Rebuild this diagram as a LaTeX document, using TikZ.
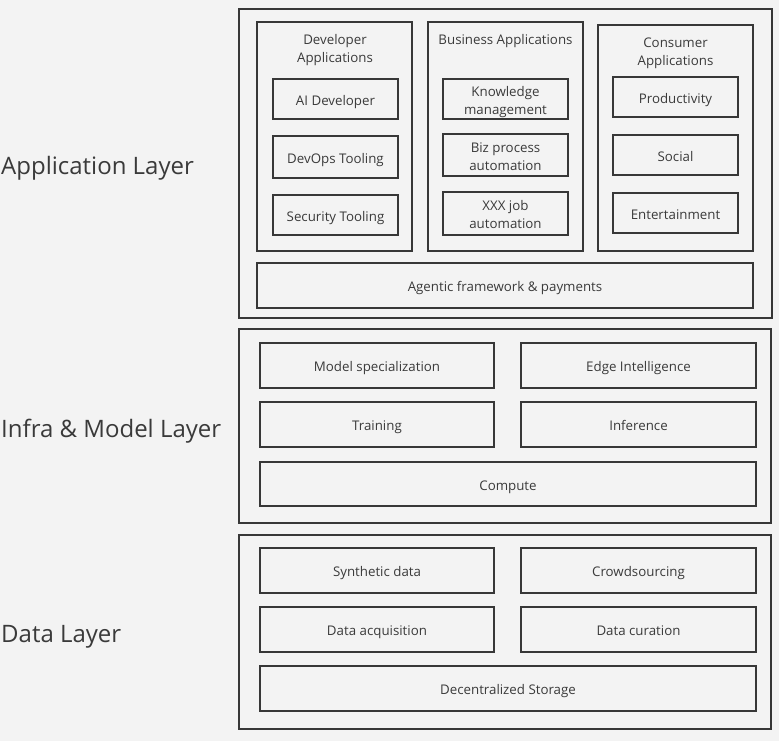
\documentclass[tikz,border=0pt]{standalone}
\usepackage{fontspec}
\setmainfont{Open Sans}
\definecolor{bgc}{RGB}{243,243,243}
\definecolor{linec}{RGB}{55,55,55}
\definecolor{textc}{RGB}{58,58,58}
\newcommand\mybox[6]{\node[boxst, minimum width={(#4-#2)*1pt}, minimum height={(#5-#3)*1pt}] (#1) at ({(#2+#4)/2},{(#3+#5)/2}) {};
  \node[boxtext] (#1-text) at ([yshift=-2.5pt]#1.center) {\strut #6\strut};}
\tikzset{
  boxst/.style={draw=linec, line width=1.3pt, inner sep=0pt, outer sep=0pt},
  boxtext/.style={inner sep=0pt, align=center, text=textc, font=\fontsize{13.3}{18}\selectfont},
  titlest/.style={inner sep=0pt, align=center, text=textc, font=\fontsize{13.3}{18}\selectfont},
  layerst/.style={inner sep=0pt, anchor=west, text=textc, font=\fontsize{24}{28}\selectfont}
}
\begin{document}
\begin{tikzpicture}[x=1pt,y=-1pt]
\fill[bgc] (0,0) rectangle (779,741);
\useasboundingbox (0,0) rectangle (779,741);
% Layers
\mybox{applayer}{239}{9}{772}{318}{}
\mybox{infralayer}{239}{329}{771}{523}{}
\mybox{datalayer}{239}{535}{771}{729}{}
% App columns
\mybox{devcol}{257}{22}{412}{251}{}
\mybox{bizcol}{428}{22}{583}{251}{}
\mybox{concol}{598}{25}{753}{251}{}
\node[titlest] (devtitle) at (335,50) {Developer\\Applications};
\node[titlest] (biztitle) at (505.5,41) {Business Applications};
\node[titlest] (contitle) at (675.5,53.5) {Consumer\\Applications};
\mybox{aidev}{273}{79}{398}{119}{AI Developer}
\mybox{devops}{273}{136}{398}{178}{DevOps Tooling}
\mybox{sectool}{273}{195}{398}{235}{Security Tooling}
\mybox{knowl}{443}{79}{568}{119}{Knowledge\\management}
\mybox{bizproc}{443}{134}{568}{176}{Biz process\\automation}
\mybox{xxxjob}{443}{192}{568}{235}{XXX job\\automation}
\mybox{prod}{613}{77}{738}{117}{Productivity}
\mybox{social}{613}{135}{738}{175}{Social}
\mybox{entert}{613}{193}{738}{233}{Entertainment}
\mybox{agentic}{257}{263}{753}{308}{Agentic framework \& payments}
% Infra
\mybox{modspec}{260}{343}{494}{388}{Model specialization}
\mybox{edge}{521}{343}{756}{388}{Edge Intelligence}
\mybox{training}{260}{402}{494}{447}{Training}
\mybox{inference}{521}{402}{756}{447}{Inference}
\mybox{compute}{260}{462}{756}{506}{Compute}
% Data
\mybox{synth}{260}{548}{494}{593}{Synthetic data}
\mybox{crowd}{521}{548}{756}{593}{Crowdsourcing}
\mybox{acq}{260}{607}{494}{652}{Data acquisition}
\mybox{cur}{521}{607}{756}{652}{Data curation}
\mybox{storage}{260}{666}{756}{711}{Decentralized Storage}
% Layer labels
\node[layerst] (applabel) at (1,168) {Application Layer};
\node[layerst] (infralabel) at (1,431) {Infra \& Model Layer};
\node[layerst] (datalabel) at (1,637) {Data Layer};
\end{tikzpicture}
\end{document}
